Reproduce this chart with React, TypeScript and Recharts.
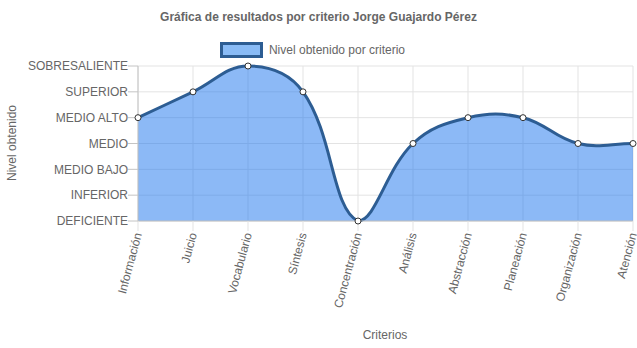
import React from 'react';
import { AreaChart, Area, XAxis, YAxis, CartesianGrid } from 'recharts';

const criterios = [
  'Información',
  'Juicio',
  'Vocabulario',
  'Síntesis',
  'Concentración',
  'Análisis',
  'Abstracción',
  'Planeación',
  'Organización',
  'Atención',
];
const niveles = ['DEFICIENTE', 'INFERIOR', 'MEDIO BAJO', 'MEDIO', 'MEDIO ALTO', 'SUPERIOR', 'SOBRESALIENTE'];
const nivelObtenido = [4, 5, 6, 5, 0, 3, 4, 4, 3, 3];
const nivelTicks = [0, 1, 2, 3, 4, 5, 6];

const data = criterios.map((criterio, i) => ({ criterio, nivel: nivelObtenido[i] }));

const FONT = '"Liberation Sans", Arial, Helvetica, sans-serif';
const TEXT = '#666';
const LINE = '#2d5d93';

// spline like chart.js (tension 0.4), control points capped to the data's y range
function splineCurve(context: any) {
  const tension = 0.4;
  let pts: number[][] = [];
  let line = NaN;
  return {
    areaStart() { line = 0; },
    areaEnd() { line = NaN; },
    lineStart() { pts = []; },
    point(x: number, y: number) { pts.push([+x, +y]); },
    lineEnd() {
      const n = pts.length;
      if (n) {
        if (line) context.lineTo(pts[0][0], pts[0][1]);
        else context.moveTo(pts[0][0], pts[0][1]);
        if (n > 1) {
          const ys = pts.map((p) => p[1]);
          const lo = Math.min(...ys);
          const hi = Math.max(...ys);
          const cap = (v: number) => Math.max(lo, Math.min(hi, v));
          const cps = pts.map((cur, i) => {
            const prev = pts[i - 1] || cur;
            const next = pts[i + 1] || cur;
            const d01 = Math.hypot(cur[0] - prev[0], cur[1] - prev[1]);
            const d12 = Math.hypot(next[0] - cur[0], next[1] - cur[1]);
            let s01 = d01 / (d01 + d12);
            let s12 = d12 / (d01 + d12);
            if (isNaN(s01)) s01 = 0;
            if (isNaN(s12)) s12 = 0;
            const fa = tension * s01;
            const fb = tension * s12;
            return {
              px: cur[0] - fa * (next[0] - prev[0]),
              py: cap(cur[1] - fa * (next[1] - prev[1])),
              nx: cur[0] + fb * (next[0] - prev[0]),
              ny: cap(cur[1] + fb * (next[1] - prev[1])),
            };
          });
          for (let i = 0; i < n - 1; i++) {
            context.bezierCurveTo(cps[i].nx, cps[i].ny, cps[i + 1].px, cps[i + 1].py, pts[i + 1][0], pts[i + 1][1]);
          }
        }
      }
      if (line || (line !== 0 && n === 1)) context.closePath();
      line = 1 - line;
    },
  };
}

const CriterioTick = (props: any) => {
  const { x, y, payload } = props;
  return (
    <text
      x={x}
      y={y}
      transform={`rotate(-75 ${x} ${y})`}
      textAnchor="end"
      dominantBaseline="central"
      fill={TEXT}
      fontSize={12}
      fontFamily={FONT}
    >
      {payload.value}
    </text>
  );
};

export default function App() {
  return (
    <div style={{ position: 'fixed', left: 0, top: 0, width: 637, height: 348, background: '#fff', fontFamily: FONT, overflow: 'hidden' }}>
      <div
        style={{
          position: 'absolute', top: 10, left: 0, width: 637, textAlign: 'center',
          fontSize: 12, fontWeight: 'bold', color: TEXT, lineHeight: '14px',
        }}
      >
        Gráfica de resultados por criterio Jorge Guajardo Pérez
      </div>
      <div
        style={{
          position: 'absolute', top: 42, left: 0, width: 637, display: 'flex',
          justifyContent: 'center', alignItems: 'center', fontSize: 12, color: TEXT,
        }}
      >
        <div style={{ display: 'flex', alignItems: 'center', marginLeft: -12 }}>
          <span
            style={{
              display: 'inline-block', width: 37, height: 10, background: '#89bbf6',
              border: `3px solid ${LINE}`, marginRight: 6, boxSizing: 'content-box',
            }}
          />
          <span>Nivel obtenido por criterio</span>
        </div>
      </div>
      <div
        style={{
          position: 'absolute', left: 12, top: 143, transform: 'translate(-50%, -50%) rotate(-90deg)',
          fontSize: 12, color: TEXT, whiteSpace: 'nowrap',
        }}
      >
        Nivel obtenido
      </div>
      <div
        style={{
          position: 'absolute', left: 385, top: 335, transform: 'translate(-50%, -50%)',
          fontSize: 12, color: TEXT, whiteSpace: 'nowrap',
        }}
      >
        Criterios
      </div>
      <div style={{ position: 'absolute', left: 0, top: 0 }}>
        <AreaChart width={637} height={348} data={data} margin={{ top: 66, right: 4, bottom: 0, left: 0 }}>
          <CartesianGrid stroke="#e3e3e3" strokeWidth={1} />
          <XAxis
            dataKey="criterio"
            height={127}
            interval={0}
            axisLine={{ stroke: '#c4c4c4' }}
            tickLine={{ stroke: '#e3e3e3' }}
            tickSize={10}
            tickMargin={2}
            tick={<CriterioTick />}
          />
          <YAxis
            type="number"
            domain={[0, 6]}
            ticks={nivelTicks}
            interval={0}
            width={138}
            axisLine={{ stroke: '#c4c4c4' }}
            tickLine={{ stroke: '#c4c4c4' }}
            tickSize={10}
            tickMargin={0}
            tickFormatter={(v: number) => niveles[v]}
            tick={{ fill: TEXT, fontSize: 12, fontFamily: FONT }}
          />
          <Area
            type={splineCurve as any}
            dataKey="nivel"
            stroke={LINE}
            strokeWidth={3}
            fill="#1a73ee"
            fillOpacity={0.5}
            dot={{ r: 3, fill: '#fff', stroke: '#333', strokeWidth: 1, fillOpacity: 1 }}
            isAnimationActive={false}
          />
        </AreaChart>
      </div>
    </div>
  );
}
